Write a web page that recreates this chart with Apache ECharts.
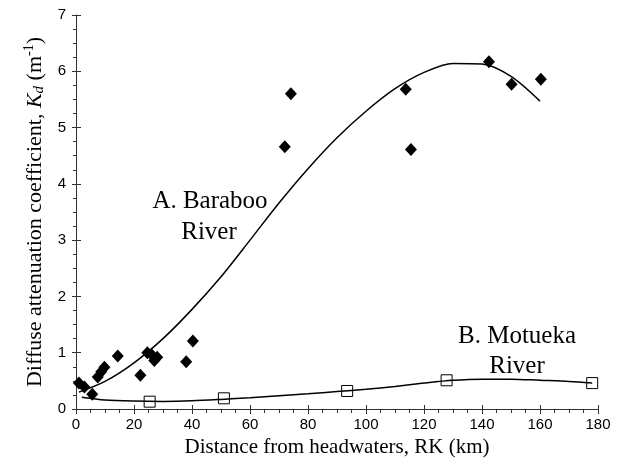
<!DOCTYPE html>
<html>
<head>
<meta charset="utf-8">
<style>
  html, body { margin: 0; padding: 0; background: #fff; }
  #chart { width: 624px; height: 474px; }
</style>
<script src="https://cdn.jsdelivr.net/npm/echarts@6/dist/echarts.min.js"></script>
</head>
<body>
<div id="chart"></div>
<script>
// Baraboo River samples: distance (km) and diffuse attenuation Kd (1/m)
const barabooKm = [1.0, 2.9, 5.6, 7.5, 8.7, 9.8, 14.4, 22.2, 24.6, 26.0, 27.0, 28.0, 38.0, 40.3, 72.0, 74.1, 113.7, 115.5, 142.4, 150.2, 160.3];
const barabooKd = [0.46, 0.39, 0.26, 0.57, 0.66, 0.74, 0.94, 0.60, 1.00, 0.97, 0.86, 0.92, 0.84, 1.21, 4.66, 5.60, 5.68, 4.61, 6.17, 5.77, 5.86];

// Motueka River samples
const motuekaKm = [25.4, 51.0, 93.5, 127.8, 178.0];
const motuekaKd = [0.13, 0.19, 0.32, 0.51, 0.46];

// Fitted trend curves
const barabooFitKm = [1, 10, 20, 30, 40, 50, 60, 70, 80, 90, 100, 110, 120, 130, 140, 150, 160];
const barabooFitKd = [0.30, 0.49, 0.82, 1.25, 1.77, 2.35, 3.00, 3.66, 4.27, 4.82, 5.29, 5.69, 5.98, 6.14, 6.13, 5.91, 5.47];
const motuekaFitKm = [2, 10, 20, 30, 40, 50, 60, 70, 80, 90, 100, 110, 120, 130, 140, 150, 160, 170, 178];
const motuekaFitKd = [0.21, 0.16, 0.14, 0.135, 0.145, 0.17, 0.20, 0.235, 0.27, 0.31, 0.35, 0.40, 0.46, 0.51, 0.53, 0.53, 0.51, 0.49, 0.46];

const zip = (a, b) => a.map((v, i) => [v, b[i]]);

const chart = echarts.init(document.getElementById('chart'));
const AX = '#333';
const SERIF = '"Liberation Serif", "Times New Roman", serif';
const SANS = '"Liberation Sans", Arial, sans-serif';

const baseX = { type: 'value', min: 0, max: 180, interval: 20, splitLine: { show: false } };
const baseY = { type: 'value', min: 0, max: 7, interval: 1, splitLine: { show: false } };

chart.setOption({
  animation: false,
  backgroundColor: '#fff',
  grid: { left: 76, right: 26, top: 15, bottom: 65 },
  xAxis: [
    Object.assign({}, baseX, {
      position: 'bottom',
      axisLine: { show: true, lineStyle: { color: AX, width: 1 } },
      axisTick: { show: true, length: 5, lineStyle: { color: AX } },
      minorTick: { show: true, splitNumber: 4, length: 4, lineStyle: { color: AX } },
      axisLabel: { color: '#000', fontFamily: SANS, fontSize: 15, margin: 8 },
      name: 'Distance from headwaters, RK (km)',
      nameLocation: 'middle',
      nameGap: 27,
      nameTextStyle: { color: '#000', fontFamily: SERIF, fontSize: 21 }
    }),
    Object.assign({}, baseX, {
      position: 'bottom', offset: 0,
      axisLine: { show: false },
      axisTick: { show: true, inside: true, length: 4, lineStyle: { color: AX } },
      axisLabel: { show: false }
    })
  ],
  yAxis: [
    Object.assign({}, baseY, {
      position: 'left',
      axisLine: { show: true, lineStyle: { color: AX, width: 1 } },
      axisTick: { show: true, length: 4, lineStyle: { color: AX } },
      minorTick: { show: true, splitNumber: 4, length: 3, lineStyle: { color: AX } },
      axisLabel: { color: '#000', fontFamily: SANS, fontSize: 15, margin: 10 },
      name: '{t|Diffuse attenuation coefficient, }{i|K}{sub|d}{t| (m}{sup|-1}{t|)}',
      nameLocation: 'middle',
      nameRotate: 90,
      nameGap: 23,
      nameTextStyle: {
        color: '#000', fontFamily: SERIF, fontSize: 22,
        rich: {
          t: { fontFamily: SERIF, fontSize: 22, lineHeight: 24, verticalAlign: 'middle', color: '#000' },
          i: { fontFamily: SERIF, fontSize: 22, fontStyle: 'italic', lineHeight: 24, verticalAlign: 'middle', color: '#000' },
          sub: { fontFamily: SERIF, fontSize: 15, fontStyle: 'italic', lineHeight: 14, verticalAlign: 'bottom', color: '#000' },
          sup: { fontFamily: SERIF, fontSize: 14, lineHeight: 14, verticalAlign: 'top', color: '#000' }
        }
      }
    }),
    Object.assign({}, baseY, {
      position: 'left', offset: 0,
      axisLine: { show: false },
      axisTick: { show: true, inside: true, length: 5, lineStyle: { color: AX } },
      axisLabel: { show: false }
    })
  ],
  series: [
    {
      name: 'Baraboo fit', type: 'line', smooth: 0.3, showSymbol: false, silent: true,
      data: zip(barabooFitKm, barabooFitKd),
      lineStyle: { color: '#000', width: 1.5 }, z: 2
    },
    {
      name: 'Motueka fit', type: 'line', smooth: 0.3, showSymbol: false, silent: true,
      data: zip(motuekaFitKm, motuekaFitKd),
      lineStyle: { color: '#000', width: 1.5 }, z: 2
    },
    {
      name: 'Baraboo', type: 'scatter', symbol: 'diamond', symbolSize: [12, 13],
      data: zip(barabooKm, barabooKd),
      itemStyle: { color: '#000', opacity: 1 }, z: 3
    },
    {
      name: 'Motueka', type: 'scatter', symbol: 'rect', symbolSize: 11,
      data: zip(motuekaKm, motuekaKd),
      itemStyle: { color: 'rgba(0,0,0,0)', borderColor: '#000', borderWidth: 1, opacity: 1 }, z: 3
    }
  ],
  graphic: [
    { type: 'text', x: 210, y: 201, style: { text: 'A. Baraboo', font: '25px ' + SERIF, fill: '#000', align: 'center', verticalAlign: 'middle' } },
    { type: 'text', x: 209, y: 232, style: { text: 'River', font: '25px ' + SERIF, fill: '#000', align: 'center', verticalAlign: 'middle' } },
    { type: 'text', x: 517, y: 336, style: { text: 'B. Motueka', font: '25px ' + SERIF, fill: '#000', align: 'center', verticalAlign: 'middle' } },
    { type: 'text', x: 517, y: 366, style: { text: 'River', font: '25px ' + SERIF, fill: '#000', align: 'center', verticalAlign: 'middle' } }
  ]
});
</script>
</body>
</html>
